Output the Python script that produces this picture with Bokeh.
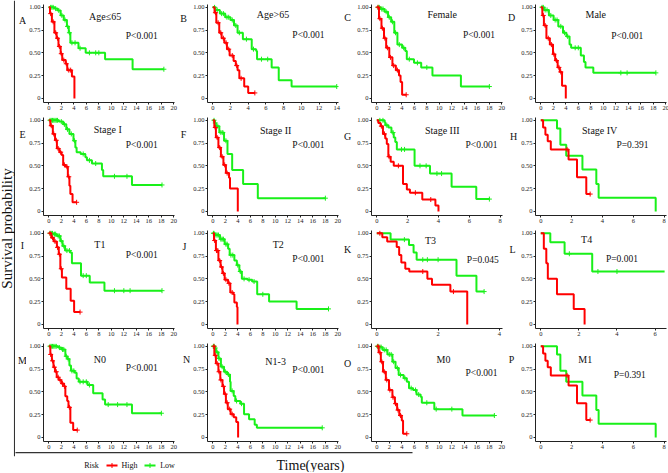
import numpy as np
from bokeh.plotting import figure
from bokeh.layouts import row, column
from bokeh.models import (Label, FixedTicker, Range1d, Span, CustomJSTickFormatter)
from bokeh.embed import file_html
from bokeh.resources import INLINE

RED = "#FF0000"
GREEN = "#19F019"
FONT = "Liberation Serif"

# ---------------- data (time in years, survival probability) ----------------
A_hi_t = [0, 0.2, 0.5, 0.9, 1.25, 1.55, 1.9, 2.15, 2.7, 2.95, 3.7, 4.1]
A_hi_s = [1, 0.93, 0.84, 0.72, 0.66, 0.57, 0.49, 0.42, 0.38, 0.31, 0.24, 0.0]
A_hi_c = [0.3, 0.7, 1.1, 1.4, 1.7, 2.0, 2.4, 2.8, 3.2, 3.5]
A_lo_t = [0, 0.9, 1.4, 1.9, 2.4, 2.9, 3.2, 3.45, 4.75, 5.9, 9.0, 13.4, 18.4]
A_lo_s = [1, 0.985, 0.965, 0.91, 0.86, 0.79, 0.72, 0.61, 0.55, 0.50, 0.43, 0.32, 0.32]
A_lo_c = [0.3, 0.5, 0.7, 1.1, 1.6, 2.1, 2.6, 3.0, 3.3, 3.7, 4.2, 5.0, 6.5, 7.5, 8.0, 18.4]

B_hi_t = [0, 0.2, 0.4, 0.73, 1.0, 1.3, 1.6, 1.9, 2.35, 2.6, 2.8, 3.0, 3.55, 4.0, 4.75]
B_hi_s = [1, 0.94, 0.83, 0.72, 0.66, 0.61, 0.54, 0.47, 0.41, 0.36, 0.31, 0.22, 0.13, 0.06, 0.06]
B_hi_c = [0.3, 0.6, 0.9, 1.2, 1.5, 1.8, 2.2, 2.7, 3.2, 4.75]
B_lo_t = [0, 0.3, 0.8, 1.4, 2.0, 2.4, 2.8, 3.4, 4.4, 4.9, 5.0, 6.65, 7.45, 8.9, 14.0]
B_lo_s = [1, 0.97, 0.93, 0.89, 0.86, 0.80, 0.72, 0.65, 0.54, 0.52, 0.43, 0.34, 0.20, 0.13, 0.13]
B_lo_c = [0.2, 0.5, 1.0, 1.2, 1.6, 1.8, 2.2, 2.6, 3.0, 3.8, 4.6, 5.5, 6.2, 14.0]

C_hi_t = [0, 0.35, 0.75, 1.15, 1.5, 2.0, 2.5, 3.05, 3.55, 3.8, 4.05, 4.7]
C_hi_s = [1, 0.875, 0.77, 0.66, 0.555, 0.45, 0.36, 0.31, 0.25, 0.18, 0.04, 0.04]
C_hi_c = [0.2, 0.5, 0.9, 1.3, 1.7, 2.2, 2.7, 3.3, 4.7]
C_lo_t = [0, 0.6, 1.25, 1.8, 2.3, 2.8, 3.3, 4.05, 4.55, 4.8, 5.95, 7.1, 8.9, 13.45, 18.0]
C_lo_s = [1, 0.98, 0.95, 0.89, 0.84, 0.72, 0.59, 0.555, 0.52, 0.43, 0.39, 0.34, 0.25, 0.13, 0.13]
C_lo_c = [0.2, 0.4, 0.8, 1.0, 1.5, 2.0, 2.5, 3.0, 3.6, 4.3, 5.2, 6.5, 8.0, 18.0]

D_hi_t = [0, 0.25, 0.5, 0.9, 1.45, 1.95, 2.3, 2.7, 3.05, 3.4, 4.0]
D_hi_s = [1, 0.91, 0.80, 0.66, 0.59, 0.485, 0.415, 0.34, 0.29, 0.14, 0.0]
D_hi_c = [0.4, 0.7, 1.2, 1.7, 2.1, 2.5, 2.9, 3.2]
D_lo_t = [0, 0.5, 1.3, 2.05, 2.8, 3.55, 4.1, 4.6, 4.85, 6.4, 6.9, 7.15, 8.4, 18.4]
D_lo_s = [1, 0.97, 0.91, 0.86, 0.79, 0.72, 0.68, 0.59, 0.555, 0.47, 0.40, 0.34, 0.28, 0.28]
D_lo_c = [0.2, 0.4, 0.7, 1.0, 1.6, 2.3, 2.6, 3.2, 3.8, 4.3, 5.5, 6.0, 12.8, 13.8, 18.4]

E_hi_t = [0, 0.25, 0.65, 1.0, 1.3, 1.7, 2.05, 2.3, 2.7, 3.05, 3.3, 3.45, 3.8, 4.45]
E_hi_s = [1, 0.94, 0.85, 0.78, 0.69, 0.65, 0.62, 0.51, 0.49, 0.38, 0.28, 0.19, 0.10, 0.10]
E_hi_c = [0.4, 0.8, 1.2, 1.5, 1.9, 2.5, 2.9, 3.2, 4.45]
E_lo_t = [0, 1.6, 2.3, 2.8, 3.3, 3.95, 4.25, 4.45, 5.1, 5.85, 6.1, 6.9, 8.5, 8.7, 13.3, 18.1]
E_lo_s = [1, 0.985, 0.955, 0.90, 0.85, 0.775, 0.70, 0.65, 0.63, 0.595, 0.56, 0.525, 0.455, 0.385, 0.29, 0.29]
E_lo_c = [0.2, 0.4, 0.6, 0.8, 1.0, 1.2, 1.4, 2.0, 2.5, 3.0, 3.6, 4.1, 5.5, 6.5, 7.5, 10.5, 12.5, 18.1]

F_hi_t = [0, 0.25, 0.5, 0.9, 1.3, 1.7, 2.1, 2.6, 2.75, 4.0]
F_hi_s = [1, 0.92, 0.81, 0.70, 0.60, 0.51, 0.42, 0.37, 0.25, 0.0]
F_hi_c = [0.4, 0.7, 1.1, 1.5, 1.9, 2.3]
F_lo_t = [0, 0.3, 0.5, 1.05, 1.8, 2.35, 3.1, 4.85, 7.2, 18.0]
F_lo_s = [1, 0.97, 0.935, 0.865, 0.775, 0.63, 0.455, 0.30, 0.145, 0.145]
F_lo_c = [0.2, 0.4, 0.8, 1.3, 1.6, 2.1, 18.0]

G_hi_t = [0, 0.1, 0.25, 0.4, 0.55, 0.65, 0.75, 0.9, 1.1, 1.7, 1.95, 2.15, 2.95, 3.8, 4.0]
G_hi_s = [1, 0.97, 0.935, 0.85, 0.80, 0.74, 0.60, 0.545, 0.50, 0.30, 0.24, 0.205, 0.13, 0.065, 0.0]
G_hi_c = [0.3, 0.5, 0.8, 1.4, 2.5, 3.5]
G_lo_t = [0, 0.5, 0.55, 0.75, 0.95, 1.1, 1.2, 1.3, 2.45, 3.45, 4.85, 6.45, 7.3]
G_lo_s = [1, 0.98, 0.945, 0.92, 0.865, 0.81, 0.76, 0.68, 0.50, 0.415, 0.27, 0.135, 0.135]
G_lo_c = [0.2, 0.4, 0.65, 1.05, 1.6, 1.8, 2.8, 3.2, 3.9, 4.2, 7.3]

H_hi_t = [0, 0.15, 0.3, 0.45, 0.65, 1.8, 2.35, 2.95, 3.2]
H_hi_s = [1, 0.92, 0.84, 0.77, 0.68, 0.57, 0.375, 0.19, 0.19]
H_hi_c = [1.7, 3.2]
H_lo_t = [0, 1.05, 1.27, 1.65, 2.7, 3.6, 3.75, 7.45]
H_lo_s = [1, 0.91, 0.73, 0.61, 0.46, 0.30, 0.15, 0.0]
H_lo_c = []

I_hi_t = [0, 0.4, 0.8, 1.3, 1.6, 1.85, 2.1, 2.8, 3.5, 4.05, 5.0]
I_hi_s = [1, 0.95, 0.91, 0.845, 0.77, 0.61, 0.515, 0.39, 0.26, 0.135, 0.135]
I_hi_c = [0.2, 0.6, 1.0, 1.4, 1.7, 2.0, 5.0]
I_lo_t = [0, 0.7, 1.3, 1.85, 2.2, 2.6, 3.4, 3.7, 5.15, 6.55, 8.9, 18.1]
I_lo_s = [1, 0.99, 0.97, 0.915, 0.86, 0.81, 0.79, 0.67, 0.535, 0.46, 0.37, 0.37]
I_lo_c = [0.2, 0.4, 0.6, 0.9, 1.1, 1.5, 1.7, 2.0, 2.4, 2.9, 3.3, 5.5, 6.0, 10.5, 12.0, 13.0, 18.1]

J_hi_t = [0, 0.2, 0.5, 0.9, 1.25, 1.55, 1.9, 2.45, 2.8, 3.3, 3.45, 3.85, 3.95]
J_hi_s = [1, 0.92, 0.81, 0.70, 0.63, 0.56, 0.49, 0.45, 0.35, 0.33, 0.24, 0.19, 0.0]
J_hi_c = [0.3, 0.6, 0.8, 1.1, 1.4, 1.7, 2.1, 2.6, 3.1]
J_lo_t = [0, 0.3, 1.15, 1.9, 2.45, 2.7, 3.45, 3.85, 4.25, 4.65, 5.55, 6.3, 7.1, 9.0, 13.4, 18.5]
J_lo_s = [1, 0.98, 0.935, 0.88, 0.83, 0.76, 0.70, 0.65, 0.58, 0.50, 0.49, 0.47, 0.33, 0.25, 0.17, 0.17]
J_lo_c = [0.1, 0.2, 0.5, 0.7, 0.9, 1.3, 1.5, 1.7, 2.1, 2.3, 2.9, 3.2, 4.0, 4.4, 5.0, 5.8, 6.6, 8.0, 18.5]

K_hi_t = [0, 0.18, 0.34, 0.65, 0.73, 0.8, 0.93, 1.06, 1.65, 1.8, 2.4, 2.95]
K_hi_s = [1, 0.955, 0.91, 0.85, 0.76, 0.68, 0.61, 0.58, 0.50, 0.435, 0.36, 0.0]
K_hi_c = [0.1, 1.5, 2.5]
K_lo_t = [0, 0.45, 1.05, 1.2, 1.3, 2.6, 3.25, 3.5]
K_lo_s = [1, 0.93, 0.87, 0.79, 0.71, 0.535, 0.36, 0.36]
K_lo_c = [0.9, 1.5, 1.65, 2.0, 3.5]

L_hi_t = [0, 0.16, 0.29, 0.37, 0.85, 1.73, 2.3]
L_hi_s = [1, 0.83, 0.67, 0.50, 0.33, 0.17, 0.0]
L_hi_c = []
L_lo_t = [0, 0.5, 1.25, 2.7, 6.5]
L_lo_s = [1, 0.90, 0.775, 0.58, 0.58]
L_lo_c = [1.5, 3.0, 4.0]

M_hi_t = [0, 0.25, 0.5, 0.75, 1.0, 1.27, 1.6, 2.0, 2.45, 2.65, 2.95, 3.15, 3.45, 3.9, 4.55]
M_hi_s = [1, 0.91, 0.84, 0.77, 0.72, 0.66, 0.63, 0.59, 0.56, 0.45, 0.40, 0.33, 0.16, 0.08, 0.08]
M_hi_c = [0.3, 0.6, 0.9, 1.2, 1.5, 1.8, 2.2, 2.5, 3.3, 4.55]
M_lo_t = [0, 1.5, 2.0, 2.65, 2.95, 3.3, 3.55, 4.15, 4.45, 4.8, 6.2, 7.1, 8.6, 9.0, 13.3, 18.0]
M_lo_s = [1, 0.985, 0.965, 0.89, 0.86, 0.79, 0.73, 0.71, 0.645, 0.61, 0.575, 0.485, 0.415, 0.36, 0.265, 0.265]
M_lo_c = [0.2, 0.4, 0.6, 0.8, 1.0, 1.2, 1.7, 2.2, 2.4, 2.8, 3.1, 3.7, 4.0, 5.0, 5.5, 6.0, 6.5, 9.5, 11.0, 12.5, 18.0]

N_hi_t = [0, 0.25, 0.5, 0.9, 1.2, 1.55, 1.8, 2.1, 2.4, 2.85, 3.35, 3.75, 4.05]
N_hi_s = [1, 0.90, 0.81, 0.72, 0.63, 0.56, 0.475, 0.38, 0.31, 0.255, 0.22, 0.17, 0.0]
N_hi_c = [0.2, 0.4, 0.7, 1.0, 1.3, 1.7, 2.0, 2.3, 2.7, 3.1]
N_lo_t = [0, 0.3, 0.5, 0.9, 1.3, 1.8, 2.3, 2.75, 2.85, 3.35, 3.6, 4.4, 5.0, 5.8, 6.7, 7.05, 17.5]
N_lo_s = [1, 0.98, 0.935, 0.865, 0.775, 0.72, 0.69, 0.61, 0.51, 0.455, 0.40, 0.37, 0.255, 0.20, 0.14, 0.105, 0.105]
N_lo_c = [0.1, 0.2, 0.4, 0.7, 1.0, 1.5, 2.0, 2.5, 3.1, 3.8, 4.6, 17.5]

O_hi_t = [0, 0.3, 0.65, 1.0, 1.45, 1.95, 2.5, 2.9, 3.25, 3.6, 4.0, 4.2, 4.8]
O_hi_s = [1, 0.93, 0.83, 0.72, 0.63, 0.52, 0.44, 0.37, 0.30, 0.24, 0.185, 0.04, 0.04]
O_hi_c = [0.2, 0.5, 0.8, 1.2, 1.6, 2.1, 2.6, 3.0, 3.4, 3.8, 4.8]
O_lo_t = [0, 0.2, 0.95, 1.7, 2.5, 3.0, 3.5, 4.3, 4.8, 5.15, 5.8, 6.35, 7.0, 7.2, 9.2, 13.7, 18.8]
O_lo_s = [1, 0.99, 0.96, 0.91, 0.83, 0.76, 0.685, 0.65, 0.61, 0.54, 0.52, 0.47, 0.445, 0.38, 0.31, 0.24, 0.24]
O_lo_c = [0.1, 0.3, 0.5, 0.7, 1.2, 1.5, 2.0, 2.3, 2.7, 3.3, 3.8, 4.5, 5.5, 6.2, 6.7, 8.0, 9.5, 12.0, 18.8]

P_hi_t = [0, 0.15, 0.3, 0.45, 0.65, 1.8, 2.35, 2.95, 3.2]
P_hi_s = [1, 0.92, 0.84, 0.77, 0.68, 0.57, 0.375, 0.19, 0.19]
P_hi_c = [1.7, 3.2]
P_lo_t = [0, 1.05, 1.27, 1.65, 2.7, 3.6, 3.75, 7.45]
P_lo_s = [1, 0.91, 0.73, 0.61, 0.46, 0.30, 0.15, 0.0]
P_lo_c = []

LETTERS = list("ABCDEFGHIJKLMNOP")
TITLES = ["Age≤65", "Age>65", "Female", "Male",
          "Stage I", "Stage II", "Stage III", "Stage IV",
          "T1", "T2", "T3", "T4",
          "N0", "N1-3", "M0", "M1"]
PVALUES = ["P<0.001", "P<0.001", "P<0.001", "P<0.001",
           "P<0.001", "P<0.001", "P<0.001", "P=0.391",
           "P<0.001", "P<0.001", "P=0.045", "P=0.001",
           "P<0.001", "P<0.001", "P<0.001", "P=0.391"]
X_TICK_MAX = [20, 14, 20, 20, 20, 20, 8, 8, 20, 20, 4, 6, 20, 20, 20, 8]
Y_TICKS = [0, 0.25, 0.5, 0.75, 1.0]

CURVES = [
    (A_hi_t, A_hi_s, A_hi_c, A_lo_t, A_lo_s, A_lo_c),
    (B_hi_t, B_hi_s, B_hi_c, B_lo_t, B_lo_s, B_lo_c),
    (C_hi_t, C_hi_s, C_hi_c, C_lo_t, C_lo_s, C_lo_c),
    (D_hi_t, D_hi_s, D_hi_c, D_lo_t, D_lo_s, D_lo_c),
    (E_hi_t, E_hi_s, E_hi_c, E_lo_t, E_lo_s, E_lo_c),
    (F_hi_t, F_hi_s, F_hi_c, F_lo_t, F_lo_s, F_lo_c),
    (G_hi_t, G_hi_s, G_hi_c, G_lo_t, G_lo_s, G_lo_c),
    (H_hi_t, H_hi_s, H_hi_c, H_lo_t, H_lo_s, H_lo_c),
    (I_hi_t, I_hi_s, I_hi_c, I_lo_t, I_lo_s, I_lo_c),
    (J_hi_t, J_hi_s, J_hi_c, J_lo_t, J_lo_s, J_lo_c),
    (K_hi_t, K_hi_s, K_hi_c, K_lo_t, K_lo_s, K_lo_c),
    (L_hi_t, L_hi_s, L_hi_c, L_lo_t, L_lo_s, L_lo_c),
    (M_hi_t, M_hi_s, M_hi_c, M_lo_t, M_lo_s, M_lo_c),
    (N_hi_t, N_hi_s, N_hi_c, N_lo_t, N_lo_s, N_lo_c),
    (O_hi_t, O_hi_s, O_hi_c, O_lo_t, O_lo_s, O_lo_c),
    (P_hi_t, P_hi_s, P_hi_c, P_lo_t, P_lo_s, P_lo_c),
]

# ---------------- layout / style ----------------
X_END = [20.1, 14.2, 20.1, 20.1, 20.1, 20.1, 8.15, 8.15, 20.1, 20.1, 4.1, 6.6, 20.1, 20.1, 20.1, 8.15]
TITLE_FX = [0.47, 0.50, 0.54, 0.46, 0.49, 0.52, 0.54, 0.49, 0.43, 0.54, 0.45, 0.39, 0.43, 0.52, 0.55, 0.38]
TITLE_FY = [0.12, 0.10, 0.10, 0.10, 0.12, 0.13, 0.13, 0.13, 0.14, 0.14, 0.10, 0.09, 0.16, 0.18, 0.16, 0.16]
PVAL_FX = [0.75, 0.77, 0.82, 0.70, 0.75, 0.77, 0.84, 0.74, 0.75, 0.77, 0.85, 0.66, 0.75, 0.77, 0.84, 0.72]
PVAL_FY = [0.32, 0.31, 0.31, 0.32, 0.28, 0.28, 0.28, 0.28, 0.25, 0.29, 0.30, 0.29, 0.25, 0.27, 0.30, 0.32]
LETTER_X = [7, 4, 4, 4, 7, 4, 4, 6, 7, 5, 4, 5, 7, 7, 4, 4]
LETTER_Y = [19, 16, 15, 15, 20, 20, 22, 22, 17, 19, 22, 22, 20, 18, 23, 18]

LEFT_W = 15
LW = 11                     # letter strip width
BL, FW, BR = 16, 131, 5     # panel borders / frame width
BT, FH, BB = 4, 98, 11      # panel borders / frame height
PANEL_H = BT + FH + BB
COL_W = LW + BL + FW + BR
BOTTOM_H = 20
YS, YE = -0.045, 1.03


def base_fig(**kw):
    f = figure(output_backend="svg", toolbar_location=None, tools="", **kw)
    f.outline_line_color = None
    f.grid.visible = False
    return f


def make_letter(i):
    f = base_fig(width=LW, height=PANEL_H, min_border_left=0, min_border_right=0,
                 min_border_top=0, min_border_bottom=0,
                 x_range=Range1d(0, LW), y_range=Range1d(0, PANEL_H),
                 x_axis_location=None, y_axis_location=None)
    f.add_layout(Label(x=LETTER_X[i], y=PANEL_H - LETTER_Y[i], text=LETTERS[i],
                       text_font=FONT, text_font_size="10px", text_align="center",
                       text_baseline="middle", text_color="#111111"))
    return f


def make_panel(i):
    hi_t, hi_s, hi_c, lo_t, lo_s, lo_c = CURVES[i]
    xe = X_END[i]
    xs = -0.042 * xe
    p = base_fig(frame_width=FW, frame_height=FH, min_border_left=BL, min_border_right=BR,
                 min_border_top=BT, min_border_bottom=BB,
                 x_range=Range1d(xs, xe), y_range=Range1d(YS, YE))
    p.xaxis.ticker = FixedTicker(ticks=list(range(0, X_TICK_MAX[i] + 1, 2)))
    p.yaxis.ticker = FixedTicker(ticks=Y_TICKS)
    p.yaxis.formatter = CustomJSTickFormatter(code="return tick == 0 ? '0' : tick.toFixed(2);")
    for ax in (p.xaxis[0], p.yaxis[0]):
        ax.axis_line_color = "#222222"
        ax.axis_line_width = 1
        ax.major_tick_line_color = "#222222"
        ax.minor_tick_line_color = None
        ax.major_tick_out = 2
        ax.major_tick_in = 0
        ax.major_label_text_font = FONT
        ax.major_label_text_font_size = "6.5px"
        ax.major_label_text_color = "#222222"
        ax.major_label_standoff = 1

    for t, s, c, col in ((lo_t, lo_s, lo_c, GREEN), (hi_t, hi_s, hi_c, RED)):
        p.step(t, s, mode="after", line_color=col, line_width=2)
        if len(c):
            idx = np.searchsorted(np.array(t), np.array(c), side="right") - 1
            p.scatter(c, np.array(s)[idx], marker="cross", size=5,
                      line_color=col, line_width=1)

    xspan, yspan = xe - xs, YE - YS
    p.add_layout(Label(x=xs + TITLE_FX[i] * xspan, y=YE - TITLE_FY[i] * yspan, text=TITLES[i],
                       text_font=FONT, text_font_size="10px", text_align="center",
                       text_baseline="middle", text_color="#111111"))
    p.add_layout(Label(x=xs + PVAL_FX[i] * xspan, y=YE - PVAL_FY[i] * yspan, text=PVALUES[i],
                       text_font=FONT, text_font_size="9.5px", text_align="center",
                       text_baseline="middle", text_color="#111111"))
    return p


grid_rows = []
for r in range(4):
    items = []
    for c in range(4):
        i = r * 4 + c
        items.append(make_letter(i))
        items.append(make_panel(i))
    grid_rows.append(row(*items, spacing=0))

# left strip: y-axis title and frame line
TOTAL_H = 4 * PANEL_H + BOTTOM_H
left = base_fig(width=LEFT_W, height=TOTAL_H, min_border_left=0, min_border_right=0,
                min_border_top=0, min_border_bottom=BOTTOM_H - 4,
                x_range=Range1d(0, LEFT_W), y_range=Range1d(0, 1),
                x_axis_location=None, y_axis_location=None)
left.add_layout(Span(location=LEFT_W - 0.8, dimension="height", line_color="#333333",
                     line_width=1.5))
left.add_layout(Label(x=6.5, y=0.5, text="Survival probability", angle=np.pi / 2,
                      text_font=FONT, text_font_size="15px", text_align="center",
                      text_baseline="middle", text_color="#111111"))

# bottom strip: frame line, legend and x-axis title
BW = 4 * COL_W
bottom = base_fig(width=BW, height=BOTTOM_H, min_border_left=0, min_border_right=0,
                  min_border_top=0, min_border_bottom=0, x_axis_location="above",
                  y_axis_location=None, x_range=Range1d(0, BW), y_range=Range1d(0, 1))
bottom.xaxis.ticker = FixedTicker(ticks=[])
bottom.xaxis.major_label_text_font_size = "0px"
bottom.xaxis.major_tick_out = 0
bottom.xaxis.major_tick_in = 0
bottom.xaxis.major_label_standoff = 0
bottom.xaxis.minor_tick_line_color = None
bottom.xaxis.axis_line_color = "#333333"
bottom.xaxis.axis_line_width = 1.5
bottom.xaxis.bounds = (0, 397)

LEG_Y = 0.35
bottom.segment(x0=[91, 129], y0=[LEG_Y, LEG_Y], x1=[102, 140], y1=[LEG_Y, LEG_Y],
               line_color=[RED, GREEN], line_width=2)
bottom.scatter([96.5, 134.5], [LEG_Y, LEG_Y], marker="cross", size=5,
               line_color=[RED, GREEN], line_width=1)
for x, txt, size in ((76, "Risk", "8px"), (114, "High", "8px"), (152, "Low", "8px"),
                     (295, "Time(years)", "14px")):
    bottom.add_layout(Label(x=x, y=LEG_Y, text=txt, text_font=FONT, text_font_size=size,
                            text_align="center", text_baseline="middle",
                            text_color="#111111"))

layout = row(left, column(*grid_rows, bottom, spacing=0), spacing=0)

open("out.html", "w").write(file_html(layout, INLINE))
